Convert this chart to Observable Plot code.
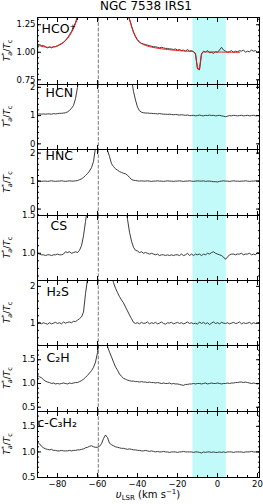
<!DOCTYPE html>
<html><head><meta charset="utf-8">
<script src="https://cdn.jsdelivr.net/npm/d3@7"></script>
<script src="https://cdn.jsdelivr.net/npm/@observablehq/plot@0.6"></script>
<style>
body{margin:0;background:#fff;font-family:"DejaVu Sans",sans-serif;}
#fig{position:relative;width:263px;height:504px;overflow:hidden;background:#fff}
#fig svg{position:absolute;left:0;}
.title{position:absolute;left:0;top:-1px;width:292px;text-align:center;font-size:12px;line-height:14px;color:#000}
.xlabel{position:absolute;left:0;top:489px;width:296px;text-align:center;font-size:10px;line-height:12px;color:#000}
.xlabel sub{font-size:7px;vertical-align:-2px;line-height:0}
.xlabel sup{font-size:7px;vertical-align:4px;line-height:0}
</style></head><body><div id="fig"></div><script>
// ---------------- data ----------------
const title = "NGC 7538 IRS1";
const velocity = [
-90,-89,-88,-87,-86,-85,-84,-83,-82,-81,
-80,-79,-78,-77,-76,-75,-74,-73,-72,-71,
-70,-69,-68,-67,-66,-65,-64,-63,-62,-61,
-60,-59,-58,-57,-56,-55,-54,-53,-52,-51,
-50,-49,-48,-47,-46,-45,-44,-43,-42,-41,
-40,-39,-38,-37,-36,-35,-34,-33,-32,-31,
-30,-29,-28,-27,-26,-25,-24,-23,-22,-21,
-20,-19,-18,-17,-16,-15,-14,-13,-12,-11,
-10,-9,-8,-7,-6,-5,-4,-3,-2,-1,
0,1,2,3,4,5,6,7,8,9,
10,11,12,13,14,15,16,17,18,19,
20,21];
const hcoPlus = [
1.07,1.07,1.06,1.06,1.05,1.04,1.05,1.04,1.05,1.05,
1.06,1.07,1.08,1.09,1.11,1.13,1.16,1.19,1.23,1.27,
1.33,1.45,1.7,2.0,2.5,3.0,3.5,4.0,4.5,5.0,
5.0,4.8,4.5,4.0,3.5,3.0,2.6,2.2,1.9,1.75,
1.62,1.55,1.48,1.42,1.38,1.36,1.30,1.24,1.18,1.14,
1.11,1.09,1.08,1.075,1.07,1.065,1.06,1.055,1.05,1.05,
1.045,1.04,1.045,1.04,1.035,1.035,1.03,1.03,1.025,1.03,
1.02,1.025,1.015,1.02,1.01,1.025,1.01,1.015,1.005,0.99,
0.85,0.84,0.98,1.01,1.0,1.015,0.995,1.0,0.99,1.005,
1.0,1.02,1.045,1.02,1.01,1.0,1.005,1.015,1.0,1.01,
1.005,1.015,1.01,1.02,1.0,1.01,1.005,1.02,1.01,1.015,
1.0,1.01];
const hcoPlusFit = [
1.065,1.06,1.055,1.05,1.047,1.045,1.045,1.046,1.048,1.052,
1.058,1.066,1.076,1.09,1.106,1.126,1.15,1.18,1.215,1.26,
1.31,1.37,1.45,1.55,1.7,1.9,2.1,2.4,2.7,3.0,
3.2,3.3,3.2,3.0,2.7,2.4,2.1,1.9,1.7,1.55,
1.48,1.44,1.40,1.37,1.35,1.34,1.30,1.235,1.185,1.145,
1.115,1.095,1.08,1.07,1.062,1.056,1.051,1.047,1.043,1.04,
1.037,1.034,1.031,1.029,1.027,1.025,1.023,1.021,1.019,1.018,
1.016,1.015,1.013,1.012,1.011,1.01,1.009,1.008,1.007,0.98,
0.85,0.85,0.99,1.005,1.004,1.004,1.003,1.003,1.003,1.002,
1.002,1.002,1.002,1.001,1.001,1.001,1.001,1.0,1.0,1.0,
1.0,1.0,null,null,null,null,null,null,null,null,
null,null];
const hcn = [
1.05,1.06,1.05,1.06,1.05,1.06,1.06,1.05,1.07,1.06,
1.07,1.08,1.08,1.09,1.1,1.13,1.18,1.26,1.36,1.6,
2.0,2.5,3.2,4,5,6,7,8,9,10,
10,10,9,8,7,6,5,4.5,4,3.6,
3.3,3.1,2.9,2.8,2.7,2.6,2.5,2.3,1.85,1.55,
1.3,1.17,1.12,1.1,1.09,1.09,1.08,1.08,1.07,1.07,
1.06,1.07,1.06,1.05,1.05,1.04,1.05,1.04,1.03,1.04,
1.03,1.02,1.03,1.02,1.01,1.02,1.0,1.0,1.01,0.99,
1.0,1.02,1.0,0.99,1.01,1.0,1.02,1.0,1.01,0.99,
1.0,1.01,0.99,0.98,0.96,0.98,1.0,0.99,1.01,1.0,
0.99,1.0,1.01,0.99,1.0,1.01,0.99,1.0,1.01,0.99,
1.0,1.0];
const hnc = [
0.99,1.0,0.99,1.0,1.0,0.99,1.0,1.01,1.0,0.99,
1.0,1.0,1.01,1.0,0.99,1.0,1.01,1.0,1.0,1.01,
1.02,1.05,1.08,1.13,1.2,1.27,1.36,1.48,1.7,2.2,
3.0,3.5,3.6,3.4,3.0,2.1,1.88,1.62,1.52,1.44,
1.39,1.34,1.31,1.28,1.26,1.21,1.13,1.06,1.03,1.02,
1.01,1.0,1.01,1.0,1.0,1.01,1.0,0.99,1.0,1.0,
1.01,1.0,1.0,0.99,1.0,1.01,1.0,1.0,0.99,1.0,
1.0,1.01,1.0,0.99,1.0,1.0,1.01,1.0,0.99,1.0,
1.01,1.0,1.0,1.01,0.99,1.0,1.0,0.99,0.98,0.98,
0.97,0.99,1.0,1.01,1.0,1.0,0.99,1.0,1.01,1.0,
1.0,0.99,1.0,1.0,1.01,1.0,0.99,1.0,1.0,1.01,
1.0,1.0];
const cs = [
1.0,0.99,0.98,0.98,0.97,0.98,0.98,0.97,0.98,0.98,
0.99,0.98,0.98,0.99,1.02,1.01,1.02,1.0,1.01,1.02,
1.01,1.04,1.1,1.23,1.42,1.6,2,2.5,3,3.5,
4,4,3.8,3.5,3.2,2.9,2.6,2.4,2.2,2.1,
2.0,1.9,1.8,1.75,1.65,1.45,1.28,1.16,1.08,1.04,
1.03,1.01,1.02,1.0,1.01,1.0,0.99,1.0,0.99,0.98,
0.99,0.97,0.98,0.98,0.97,0.98,0.97,0.98,0.97,0.98,
0.98,0.97,0.99,0.97,0.98,1.0,0.97,0.99,0.97,0.99,
0.98,0.99,0.97,0.99,0.98,1.0,0.99,1.01,1.02,1.0,
0.99,0.98,0.97,0.95,0.92,0.95,0.98,0.99,0.99,0.98,
0.99,0.99,1.0,0.98,0.99,0.99,1.0,0.98,0.99,0.98,
1.01,1.0];
const h2s = [
1.0,1.02,0.98,1.01,0.99,0.97,1.01,0.98,1.0,1.02,
0.99,1.01,0.98,1.03,1.0,1.02,1.03,1.01,1.05,1.04,
1.08,1.12,1.17,1.3,1.8,2.2,2.6,3,3.5,4,
4,4,3.8,3.5,3.2,2.9,2.7,2.35,2.1,1.95,
1.83,1.72,1.63,1.55,1.44,1.33,1.22,1.12,1.02,0.99,
1.01,0.98,1.02,0.99,1.0,1.03,0.98,1.01,0.99,1.02,
0.98,1.0,1.03,0.99,0.97,1.01,1.0,1.02,0.98,1.0,
1.02,0.99,1.01,0.98,1.0,1.03,0.99,1.01,0.98,1.0,
0.97,1.03,0.99,1.02,0.98,1.01,0.96,1.0,1.03,0.99,
1.01,0.98,1.02,1.0,0.99,1.01,0.98,1.0,1.02,0.99,
1.0,1.03,0.98,1.01,0.99,1.0,1.02,0.98,1.01,0.99,
1.0,1.01];
const c2h = [
1.17,1.14,1.12,1.08,1.05,1.03,1.02,1.0,1.01,0.99,
1.0,0.99,1.0,1.01,1.0,0.99,1.01,1.0,1.01,1.02,
1.02,1.04,1.06,1.09,1.13,1.17,1.22,1.27,1.34,1.45,
1.65,2.0,2.3,2.4,2.1,1.78,1.66,1.56,1.45,1.35,
1.28,1.2,1.15,1.11,1.09,1.07,1.06,1.05,1.05,1.04,
1.04,1.03,1.04,1.03,1.03,1.02,1.03,1.02,1.02,1.01,
1.02,1.01,1.0,1.01,1.0,1.0,1.01,0.99,1.0,0.99,
0.99,0.98,0.97,0.96,0.98,0.98,0.99,0.99,1.0,0.99,
1.0,1.0,0.99,1.0,1.01,0.99,1.0,1.01,1.0,1.0,
1.01,1.0,0.99,1.0,1.0,1.01,1.0,1.01,1.01,1.02,
1.02,1.03,1.03,1.02,1.03,1.02,1.01,1.0,1.01,1.0,
0.99,1.0];
const cC3H2 = [
1.19,1.16,1.11,1.08,1.06,1.05,1.04,1.05,1.03,1.03,
1.02,1.02,1.03,1.02,1.02,1.02,1.03,1.02,1.03,1.03,
1.04,1.04,1.05,1.06,1.08,1.09,1.11,1.12,1.1,1.09,
1.09,1.11,1.16,1.26,1.33,1.28,1.17,1.14,1.12,1.1,
1.09,1.08,1.07,1.07,1.06,1.05,1.06,1.05,1.04,1.04,
1.03,1.03,1.02,1.02,1.03,1.02,1.01,1.02,1.01,1.0,
1.01,1.0,1.0,1.01,1.0,1.0,0.99,1.0,1.0,1.0,
0.99,1.0,1.0,1.01,1.0,1.0,1.0,1.0,0.99,1.0,
1.0,0.99,0.98,1.0,0.99,1.0,1.0,0.99,1.0,0.99,
0.99,1.0,0.99,1.0,0.99,1.0,1.0,1.0,0.99,1.0,
1.0,1.0,1.0,0.99,1.0,1.0,1.0,1.01,1.0,1.0,
1.0,1.01];
const moleculeNames = ["HCO⁺", "HCN", "HNC", "CS", "H₂S", "C₂H", "c-C₃H₂"];
const spectra = [hcoPlus, hcn, hnc, cs, h2s, c2h, cC3H2];
const fits = [hcoPlusFit, null, null, null, null, null, null];
const xDomain = [-90, 21];
const xMajorTicks = [-80, -60, -40, -20, 0, 20];
const xMinorTicks = [-85, -75, -70, -65, -55, -50, -45, -35, -30, -25, -15, -10, -5, 5, 10, 15];
const cyanBand = [-12.3, 4.4];
const systemicVelocity = [-59.6];
const yDomains = [[0.707, 1.316], [-0.2, 2.1], [-0.23, 2.13], [0.64, 1.5], [0.39, 2.16], [0.41, 1.8], [0.5, 1.79]];
const yMajorTicks = [[0.75, 1.0, 1.25], [0, 1, 2], [0, 1, 2], [1.0, 1.5], [1, 2], [0.5, 1.0, 1.5], [0.5, 1.0, 1.5]];
const yMinorTicks = [
  [0.75, 0.8, 0.85, 0.9, 0.95, 1.0, 1.05, 1.1, 1.15, 1.2, 1.25, 1.3],
  [0, 0.2, 0.4, 0.6, 0.8, 1.0, 1.2, 1.4, 1.6, 1.8, 2.0],
  [-0.2, 0, 0.2, 0.4, 0.6, 0.8, 1.0, 1.2, 1.4, 1.6, 1.8, 2.0],
  [0.7, 0.8, 0.9, 1.0, 1.1, 1.2, 1.3, 1.4, 1.5],
  [0.4, 0.6, 0.8, 1.0, 1.2, 1.4, 1.6, 1.8, 2.0],
  [0.5, 0.6, 0.7, 0.8, 0.9, 1.0, 1.1, 1.2, 1.3, 1.4, 1.5, 1.6, 1.7],
  [0.5, 0.6, 0.7, 0.8, 0.9, 1.0, 1.1, 1.2, 1.3, 1.4, 1.5, 1.6, 1.7]
];
const yTickFormats = [".2f", "d", "d", ".1f", "d", ".1f", ".1f"];

// ---------------- layout ----------------
const panelTops = [17, 84, 149, 215, 280, 345, 411, 477];
const labelDx = [4, 8, 8, 13, 9, 9, 0];
const labelDy = [7, 4, 1.5, 5.5, 6.5, 7.5, 6.5];
const W = 263, ML = 37, MR = 4;

const fig = document.getElementById("fig");
const t = document.createElement("div");
t.className = "title"; t.textContent = title; fig.appendChild(t);

spectra.forEach((vals, i) => {
  const last = i === spectra.length - 1;
  const inner = panelTops[i + 1] - panelTops[i];
  const mt = 1, mb = last ? 27 : 1;
  const rows = velocity.map((v, k) => ({v, y: vals[k]}));
  const marks = [
    Plot.rect([cyanBand], {x1: d => d[0], x2: d => d[1], fill: "#c2fafa"}),
    Plot.ruleX(systemicVelocity, {stroke: "#7a7a7a", strokeWidth: 1, strokeDasharray: "3.7,1.6"}),
    Plot.line(rows, {x: "v", y: "y", stroke: "#262626", strokeWidth: 0.9, clip: true})
  ];
  if (fits[i]) {
    const frows = velocity.map((v, k) => ({v, y: fits[i][k]}));
    marks.push(Plot.line(frows, {x: "v", y: "y", stroke: "#ee1111", strokeWidth: 1, clip: true}));
  }
  marks.push(
    Plot.text([moleculeNames[i]], {text: d => d, frameAnchor: "top-left", textAnchor: "start", lineAnchor: "top", dx: labelDx[i], dy: labelDy[i], fontSize: 12.5, fill: "black"}),
    Plot.axisX(xMajorTicks, {anchor: "bottom", tickSize: -4, fill: "none", label: null}),
    Plot.axisX(xMinorTicks, {anchor: "bottom", tickSize: -2, fill: "none", label: null}),
    Plot.axisX(xMajorTicks, {anchor: "top", tickSize: -4, fill: "none", label: null}),
    Plot.axisX(xMinorTicks, {anchor: "top", tickSize: -2, fill: "none", label: null}),
    Plot.axisY(yMajorTicks[i], {anchor: "left", tickSize: -4, fill: "none", label: null}),
    Plot.axisY(yMinorTicks[i], {anchor: "left", tickSize: -2, fill: "none", label: null}),
    Plot.axisY(yMajorTicks[i], {anchor: "right", tickSize: -4, fill: "none", label: null}),
    Plot.axisY(yMinorTicks[i], {anchor: "right", tickSize: -2, fill: "none", label: null}),
    Plot.axisY(yMajorTicks[i], {anchor: "left", tickSize: 0, tickPadding: 2, tickFormat: d3.format(yTickFormats[i]), label: null, fontSize: 8.5}),
    Plot.frame({stroke: "black", strokeWidth: 1})
  );
  if (last) marks.push(Plot.axisX(xMajorTicks, {anchor: "bottom", tickSize: 0, tickPadding: 3, tickFormat: d3.format("d"), label: null, fontSize: 8.5}));
  const svg = Plot.plot({
    width: W, height: inner + mt + mb,
    marginLeft: ML, marginRight: MR, marginTop: mt, marginBottom: mb,
    x: {domain: xDomain},
    y: {domain: yDomains[i]},
    style: {fontFamily: "DejaVu Sans", fontSize: "8.5px", background: "transparent", overflow: "visible", color: "black"},
    marks
  });
  svg.style.top = (panelTops[i] - mt) + "px";
  // y-axis label T*_a / T_c
  const cy = mt + inner / 2;
  const lab = d3.select(svg).append("text")
    .attr("transform", `translate(9.5,${cy}) rotate(-90)`)
    .attr("text-anchor", "middle").attr("font-size", 9).attr("fill", "black")
    .attr("font-family", "DejaVu Sans");
  lab.append("tspan").attr("font-style", "italic").text("T");
  lab.append("tspan").attr("font-size", 6.5).attr("dy", -3.5).text("*");
  lab.append("tspan").attr("font-size", 6.5).attr("font-style", "italic").attr("dx", -3.3).attr("dy", 6).text("a");
  lab.append("tspan").attr("dy", -2.5).text("/");
  lab.append("tspan").attr("font-style", "italic").text("T");
  lab.append("tspan").attr("font-size", 6.5).attr("dy", 2).text("c");
  fig.appendChild(svg);
});

const xl = document.createElement("div");
xl.className = "xlabel";
xl.innerHTML = '<i>υ</i><sub>LSR</sub> (km s<sup>−1</sup>)';
fig.appendChild(xl);
</script></body></html>
